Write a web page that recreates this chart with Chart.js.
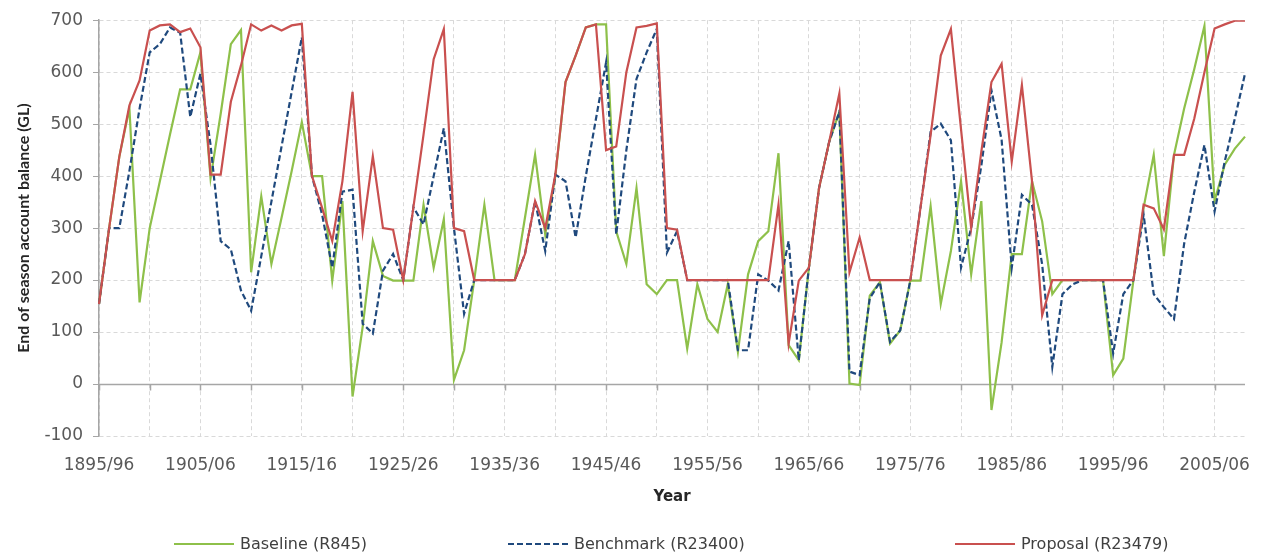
<!DOCTYPE html>
<html>
<head>
<meta charset="utf-8">
<script src="https://cdn.jsdelivr.net/npm/chart.js@4.4.1/dist/chart.umd.min.js"></script>
<style>
  html, body { margin: 0; padding: 0; background: #fff; }
  #wrap { position: relative; width: 1264px; height: 559px; }
  #legend { position: absolute; left: 0; top: 0; width: 1264px; height: 559px; pointer-events: none;
            font-family: 'DejaVu Sans', sans-serif; font-size: 16px; color: #404040; }
  .item { position: absolute; top: 534px; display: flex; align-items: center; white-space: nowrap; }
  .item svg { margin-right: 6px; }
</style>
</head>
<body>
<div id="wrap">
  <canvas id="chart" width="1264" height="559"></canvas>
  <div id="legend"></div>
</div>
<script>
// --- data (end of season balance, GL), one value per water year 1895/96 .. 2008/09 ---
const years = [];
for (let y = 1895; y <= 2008; y++) years.push(y + '/' + String((y + 1) % 100).padStart(2, '0'));

const baseline = [
  154, 300, 437, 530, 157, 300, 390, 480, 567, 567,
  638, 396, 520, 654, 681, 215, 361, 231, 320, 410,
  504, 400, 400, 199, 352, -24, 110, 275, 208, 199,
  199, 199, 345, 224, 317, 8, 65, 200, 345, 200,
  200, 200, 320, 441, 288, 400, 581, 632, 686, 692,
  692, 294, 231, 377, 192, 173, 200, 200, 68, 192,
  125, 100, 192, 62, 211, 275, 294, 444, 75, 46,
  224, 377, 466, 524, 1, -2, 170, 196, 78, 103,
  199, 199, 342, 154, 256, 390, 211, 352, -50, 80,
  250, 250, 390, 313, 173, 200, 200, 200, 200, 200,
  17, 49, 200, 339, 441, 246, 441, 530, 606, 689,
  352, 422, 453, 476
];

const benchmark = [
  154, 300, 300, 410, 530, 638, 654, 686, 676, 514,
  597, 460, 275, 259, 180, 141, 246, 351, 457, 562,
  667, 400, 326, 224, 370, 374, 116, 97, 218, 250,
  200, 340, 307, 400, 492, 300, 135, 200, 200, 200,
  200, 200, 250, 352, 256, 403, 390, 282, 400, 510,
  619, 288, 450, 587, 638, 683, 253, 294, 200, 200,
  200, 200, 200, 65, 65, 211, 199, 180, 275, 46,
  224, 377, 466, 524, 24, 17, 165, 196, 81, 103,
  199, 339, 485, 501, 469, 224, 300, 420, 565, 470,
  224, 364, 345, 230, 33, 173, 192, 200, 200, 200,
  59, 173, 200, 326, 173, 148, 125, 270, 370, 460,
  332, 428, 511, 597
];

const proposal = [
  154, 300, 437, 536, 584, 680, 690, 692, 677, 684,
  648, 403, 403, 543, 613, 692, 680, 690, 680, 690,
  693, 400, 339, 275, 390, 562, 294, 438, 300, 297,
  200, 340, 480, 625, 683, 300, 294, 200, 200, 200,
  200, 200, 250, 352, 300, 403, 581, 632, 686, 692,
  450, 457, 600, 686, 689, 694, 300, 297, 200, 200,
  200, 200, 200, 200, 200, 200, 200, 345, 78, 199,
  224, 377, 466, 559, 215, 282, 200, 200, 200, 200,
  200, 339, 479, 632, 683, 490, 300, 447, 581, 616,
  428, 575, 390, 132, 200, 200, 200, 200, 200, 200,
  200, 200, 200, 345, 338, 298, 441, 441, 511, 600,
  684, 692, 699, 699
];

const seriesNames = ['Baseline (R845)', 'Benchmark (R23400)', 'Proposal (R23479)'];
const yTicks = { min: -100, max: 700, step: 100 };

// --- look ---
const GREEN = '#8EC04A';
const BLUE = '#1F497D';
const RED = '#C9504F';
const GRID = '#D9D9D9';
const AXIS = '#A6A6A6';
const TXT = '#595959';
const FONT = "'DejaVu Sans', sans-serif";
const legendLeft = [174, 508, 955];

// solid zero line with tick marks every 5 years (Excel axis crossing at 0)
const zeroAxis = {
  id: 'zeroAxis',
  beforeDatasetsDraw(chart) {
    const { ctx, chartArea, scales: { x, y } } = chart;
    const y0 = Math.round(y.getPixelForValue(0)) + 0.5;
    ctx.save();
    ctx.strokeStyle = AXIS;
    ctx.lineWidth = 1.5;
    ctx.beginPath();
    ctx.moveTo(chartArea.left, y0);
    ctx.lineTo(chartArea.right, y0);
    for (let i = 0; i < years.length; i += 5) {
      const px = Math.round(x.getPixelForValue(i)) + 0.5;
      ctx.moveTo(px, y0);
      ctx.lineTo(px, y0 + 6);
    }
    ctx.stroke();
    ctx.restore();
  }
};

const chart = new Chart(document.getElementById('chart'), {
  type: 'line',
  data: {
    labels: years,
    datasets: [
      { label: seriesNames[0], data: baseline, borderColor: GREEN, backgroundColor: GREEN,
        borderWidth: 2.2, pointRadius: 0, tension: 0, order: 3 },
      { label: seriesNames[1], data: benchmark, borderColor: BLUE, backgroundColor: BLUE,
        borderWidth: 2.2, borderDash: [6, 3], pointRadius: 0, tension: 0, order: 2 },
      { label: seriesNames[2], data: proposal, borderColor: RED, backgroundColor: RED,
        borderWidth: 2.2, pointRadius: 0, tension: 0, order: 1 },
    ],
  },
  options: {
    responsive: false,
    animation: false,
    devicePixelRatio: 1,
    layout: { padding: { top: 17, right: 19, bottom: 43, left: 0 } },
    plugins: {
      legend: { display: false },
      tooltip: { enabled: false },
    },
    scales: {
      x: {
        offset: false,
        border: { display: false, dash: [4, 3] },
        grid: {
          color: (c) => (c.index % 5 === 0 ? GRID : 'rgba(0,0,0,0)'),
          drawTicks: false,
        },
        ticks: {
          autoSkip: false, maxRotation: 0, minRotation: 0, padding: 19,
          color: TXT, font: { family: FONT, size: 17 },
          callback: (v, i) => (i % 10 === 0 ? years[i] : ''),
        },
        title: {
          display: true, text: 'Year', color: '#262626',
          font: { family: FONT, size: 15, weight: 'bold' },
          padding: { top: 0, bottom: 10 },
        },
        afterFit: (s) => { s.height = 80; },
      },
      y: {
        min: yTicks.min, max: yTicks.max,
        border: { display: true, color: AXIS, width: 1.5, dash: [4, 3] },
        grid: { color: GRID, tickColor: AXIS, tickLength: 6 },
        ticks: { stepSize: yTicks.step, color: TXT, padding: 10, font: { family: FONT, size: 17 } },
        title: {
          display: true, text: 'End of season account balance (GL)', color: '#262626',
          font: { family: "'Lato', sans-serif", size: 16, weight: 'bold' },
          padding: { top: 14, bottom: 0 },
        },
        afterFit: (s) => { s.width = 99; },
      },
    },
  },
  plugins: [zeroAxis],
});

// legend drawn from the chart's own datasets, in series order
const legendBox = document.getElementById('legend');
chart.data.datasets.forEach((ds, i) => {
  const item = document.createElement('div');
  item.className = 'item';
  item.style.left = legendLeft[i] + 'px';
  const dash = ds.borderDash ? ds.borderDash.join(',') : 'none';
  item.innerHTML =
    '<svg width="60" height="4"><line x1="0" y1="2" x2="60" y2="2" stroke="' + ds.borderColor +
    '" stroke-width="2" stroke-dasharray="' + dash + '"/></svg><span>' + ds.label + '</span>';
  legendBox.appendChild(item);
});
</script>
</body>
</html>
